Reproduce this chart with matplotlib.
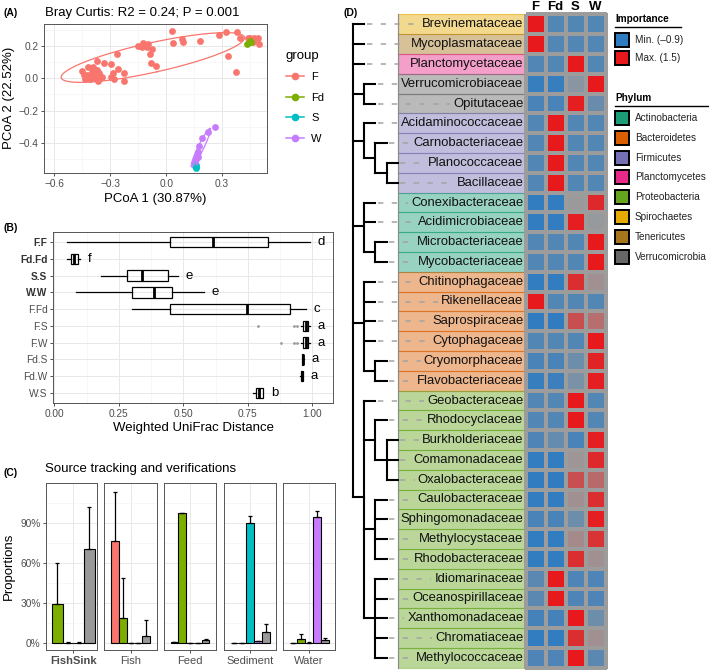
import numpy as np
import matplotlib
matplotlib.use('Agg')
import matplotlib.pyplot as plt
from matplotlib.patches import Rectangle
from matplotlib.lines import Line2D
from matplotlib.colors import LinearSegmentedColormap, Normalize

plt.rcParams['font.family'] = ['Liberation Sans', 'DejaVu Sans']

W, H = 709, 670

# ---------------- (A) PCoA data ----------------
pc1_F = [0.034, 0.038, 0.084, 0.088, 0.183, 0.285, 0.323, 0.377, 0.397, 0.330, 0.374,
         0.438, 0.453, 0.469, 0.483, 0.492, 0.496, 0.465, 0.447,
         -0.151, -0.124, -0.113, -0.128, -0.095, -0.077, -0.088, -0.083, -0.054, -0.101,
         -0.262, -0.295, -0.259, -0.287, -0.226, -0.293, -0.280, -0.223, -0.334, -0.372,
         -0.370, -0.361, -0.383, -0.406, -0.424, -0.451, -0.420, -0.397, -0.352, -0.433,
         -0.383, -0.410, -0.343, -0.366, -0.442, -0.392]
pc2_F = [0.295, 0.221, 0.241, 0.223, 0.229, 0.266, 0.285, 0.285, 0.252, 0.140, 0.039,
         0.247, 0.237, 0.247, 0.241, 0.247, 0.210, 0.227, 0.252,
         0.202, 0.221, 0.206, 0.196, 0.210, 0.179, 0.151, 0.097, 0.078, 0.196,
         0.148, 0.091, 0.060, 0.035, 0.035, 0.010, -0.004, -0.019, 0.097, 0.107,
         0.052, 0.035, 0.004, -0.006, 0.021, 0.047, 0.072, 0.041, 0.000, -0.006,
         0.035, 0.019, 0.010, -0.016, 0.021, 0.072]
pc1_Fd = [0.435, 0.450, 0.455]
pc2_Fd = [0.215, 0.232, 0.226]
pc1_S = [0.152, 0.158, 0.162, 0.160, 0.155]
pc2_S = [-0.525, -0.535, -0.548, -0.555, -0.540]
pc1_W = [0.259, 0.223, 0.192, 0.178, 0.170, 0.166, 0.160, 0.153, 0.170]
pc2_W = [-0.299, -0.330, -0.370, -0.420, -0.455, -0.475, -0.500, -0.520, -0.490]
group_names = ['F', 'Fd', 'S', 'W']
group_colors = ['#F8766D', '#7CAE00', '#00BFC4', '#C77CFF']

# ---------------- (B) distance boxplots ----------------
pair_labels = ['F.F', 'Fd.Fd', 'S.S', 'W.W', 'F.Fd', 'F.S', 'F.W', 'Fd.S', 'Fd.W', 'W.S']
box_lo = [0.05, 0.05, 0.18, 0.085, 0.30, 0.955, 0.955, 0.958, 0.953, 0.77]
box_q1 = [0.45, 0.065, 0.28, 0.30, 0.45, 0.965, 0.965, 0.960, 0.955, 0.78]
box_med = [0.615, 0.075, 0.34, 0.385, 0.745, 0.975, 0.975, 0.962, 0.958, 0.795]
box_q3 = [0.83, 0.09, 0.44, 0.455, 0.915, 0.985, 0.985, 0.965, 0.962, 0.81]
box_hi = [0.99, 0.10, 0.48, 0.58, 0.975, 0.99, 0.99, 0.966, 0.963, 0.81]
box_out = [[], [], [], [], [], [0.79, 0.93, 0.94], [0.88, 0.93, 0.94], [], [], []]
sig_letters = ['d', 'f', 'e', 'e', 'c', 'a', 'a', 'a', 'a', 'b']

# ---------------- (C) source tracking ----------------
sinks = ['FishSink', 'Fish', 'Feed', 'Sediment', 'Water']
sources = ['Fish', 'Feed', 'Sediment', 'Water', 'Unknown']
source_colors = ['#F8766D', '#7CAE00', '#00BFC4', '#C77CFF', '#999999']
prop_fish = [np.nan, 0.765, 0.006, 0.003, 0.003]
prop_feed = [0.295, 0.185, 0.970, 0.003, 0.028]
prop_sed = [0.004, 0.003, 0.002, 0.900, 0.004]
prop_water = [0.004, 0.003, 0.002, 0.012, 0.945]
prop_unknown = [0.705, 0.052, 0.020, 0.085, 0.025]
sd_fish = [np.nan, 0.365, 0.003, 0.001, 0.001]
sd_feed = [0.305, 0.305, 0.005, 0.001, 0.040]
sd_sed = [0.002, 0.001, 0.001, 0.050, 0.002]
sd_water = [0.002, 0.001, 0.001, 0.005, 0.040]
sd_unknown = [0.310, 0.120, 0.008, 0.057, 0.012]

# ---------------- (D) tree + importance heatmap ----------------
tree = ["Brevinemataceae", "Mycoplasmataceae", "Planctomycetaceae",
        ["Verrucomicrobiaceae", "Opitutaceae"],
        ["Acidaminococcaceae", ["Carnobacteriaceae", ["Planococcaceae", "Bacillaceae"]]],
        ["Conexibacteraceae", "Acidimicrobiaceae", ["Microbacteriaceae", "Mycobacteriaceae"]],
        ["Chitinophagaceae", "Rikenellaceae", "Saprospiraceae", "Cytophagaceae",
         ["Cryomorphaceae", "Flavobacteriaceae"]],
        ["Geobacteraceae",
         ["Rhodocyclaceae", ["Burkholderiaceae", "Comamonadaceae", "Oxalobacteraceae"]],
         ["Caulobacteraceae", "Sphingomonadaceae", "Methylocystaceae", "Rhodobacteraceae"],
         ["Idiomarinaceae", "Oceanospirillaceae", "Xanthomonadaceae", "Chromatiaceae",
          "Methylococcaceae"]]]
families = ["Brevinemataceae", "Mycoplasmataceae", "Planctomycetaceae", "Verrucomicrobiaceae",
            "Opitutaceae", "Acidaminococcaceae", "Carnobacteriaceae", "Planococcaceae",
            "Bacillaceae", "Conexibacteraceae", "Acidimicrobiaceae", "Microbacteriaceae",
            "Mycobacteriaceae", "Chitinophagaceae", "Rikenellaceae", "Saprospiraceae",
            "Cytophagaceae", "Cryomorphaceae", "Flavobacteriaceae", "Geobacteraceae",
            "Rhodocyclaceae", "Burkholderiaceae", "Comamonadaceae", "Oxalobacteraceae",
            "Caulobacteraceae", "Sphingomonadaceae", "Methylocystaceae", "Rhodobacteraceae",
            "Idiomarinaceae", "Oceanospirillaceae", "Xanthomonadaceae", "Chromatiaceae",
            "Methylococcaceae"]
family_phylum = (["Spirochaetes", "Tenericutes", "Planctomycetes"] + ["Verrucomicrobia"] * 2
                 + ["Firmicutes"] * 4 + ["Actinobacteria"] * 4 + ["Bacteroidetes"] * 6
                 + ["Proteobacteria"] * 14)
phyla = ['Actinobacteria', 'Bacteroidetes', 'Firmicutes', 'Planctomycetes',
         'Proteobacteria', 'Spirochaetes', 'Tenericutes', 'Verrucomicrobia']
phylum_colors = ['#1B9E77', '#D95F02', '#7570B3', '#E7298A',
                 '#66A61E', '#E6AB02', '#A6761D', '#666666']
heat_cols = ['F', 'Fd', 'S', 'W']
imp_F = [1.5, 1.5, -.5, -.8, -.6, -.5, -.5, -.5, -.5, -.85, -.85, -.5, -.5, -.85, 1.5, -.87, -.5,
         -.6, -.8, -.5, -.5, -.55, -.85, -.87, -.85, -.6, -.85, -.85, -.4, -.4, -.65, -.85, -.55]
imp_Fd = [-.5, -.5, -.5, -.8, -.6, 1.5, 1.5, 1.5, 1.5, -.85, -.85, -.5, -.5, -.85, -.5, -.87, -.5,
          -.6, -.75, -.5, -.5, -.3, -.85, -.87, -.85, -.6, -.85, -.85, 1.5, 1.5, -.65, -.85, -.55]
imp_S = [-.5, -.5, 1.5, .1, 1.45, -.5, -.5, -.5, -.5, .3, 1.45, -.5, -.5, 1.3, -.5, 1.0, -.5,
         -.2, -.05, 1.5, 1.5, -.6, .35, 1.0, .4, -.2, .45, 1.3, -.55, -.55, 1.5, 1.3, 1.5]
imp_W = [-.5, -.5, -.5, 1.5, -.25, -.5, -.5, -.5, -.5, 1.35, .25, 1.5, 1.5, .4, -.5, .72, 1.5,
         1.4, 1.45, -.5, -.5, 1.45, 1.35, .75, 1.3, 1.45, 1.25, .4, -.55, -.55, -.2, .4, -.4]

TICK = 7.3
TITLE = 9.5
TXT_GREY = '#4d4d4d'

fig = plt.figure(figsize=(W / 100, H / 100), dpi=100)


def px_axes(l, t, r, b):
    return fig.add_axes([l / W, 1 - b / H, (r - l) / W, (b - t) / H])


def ftext(x, y, s, **kw):
    return fig.text(x / W, 1 - y / H, s, **kw)


def bw_style(ax):
    for s in ax.spines.values():
        s.set_color('#555555')
        s.set_linewidth(0.7)
    ax.tick_params(which='major', length=2.5, width=0.6, color='#333333',
                   labelsize=TICK, labelcolor=TXT_GREY, pad=1.5)
    ax.tick_params(which='minor', length=0)
    ax.grid(True, which='major', color='#e8e8e8', lw=0.7)
    ax.grid(True, which='minor', color='#f2f2f2', lw=0.4)
    ax.set_axisbelow(True)


def ellipse_xy(x, y, level=0.68, n=150):
    x = np.asarray(x)
    y = np.asarray(y)
    vals, vecs = np.linalg.eigh(np.cov(x, y))
    r = np.sqrt(-2 * np.log(1 - level))
    t = np.linspace(0, 2 * np.pi, n)
    circ = np.vstack([np.cos(t), np.sin(t)])
    pts = vecs @ (np.sqrt(np.maximum(vals, 0))[:, None] * circ) * r
    return pts[0] + x.mean(), pts[1] + y.mean()


# ================= panel A =================
axA = px_axes(44, 24, 267, 173)
bw_style(axA)
groups = [(pc1_F, pc2_F), (pc1_Fd, pc2_Fd), (pc1_S, pc2_S), (pc1_W, pc2_W)]
handles = []
for name, col, (gx, gy) in zip(group_names, group_colors, groups):
    axA.scatter(gx, gy, s=24, color=col, lw=0, zorder=3)
    ex, ey = ellipse_xy(gx, gy)
    axA.plot(ex, ey, color=col, lw=0.9, zorder=4)
    handles.append(Line2D([], [], color=col, marker='o', markersize=4.5, lw=1.1))
axA.set_xlim(-0.654, 0.54)
axA.set_ylim(-0.586, 0.336)
axA.set_xticks([-0.6, -0.3, 0.0, 0.3], ['\u22120.6', '\u22120.3', '0.0', '0.3'])
axA.set_xticks([-0.45, -0.15, 0.15, 0.45], minor=True)
axA.set_yticks([-0.4, -0.2, 0.0, 0.2], ['\u22120.4', '\u22120.2', '0.0', '0.2'])
axA.set_yticks([-0.5, -0.3, -0.1, 0.1, 0.3], minor=True)
fig.legend(handles, group_names, title='group', loc='upper left',
           bbox_to_anchor=(280 / W, 1 - 44 / H), frameon=False, fontsize=8,
           title_fontsize=9.5, handlelength=1.7, labelspacing=0.95, borderpad=0,
           handletextpad=0.6, alignment='left')
ftext(45, 13, 'Bray Curtis: R2 = 0.24; P = 0.001', fontsize=TITLE, va='center')
ftext(4, 13, '(A)', fontsize=7.5, fontweight='bold', va='center')
ftext(155, 199, 'PCoA 1 (30.87%)', fontsize=TITLE, ha='center', va='center')
ftext(9, 98, 'PCoA 2 (22.52%)', fontsize=TITLE, ha='center', va='center', rotation=90)

# ================= panel B =================
axB = px_axes(53, 232, 333, 403)
bw_style(axB)
positions = np.arange(len(pair_labels), 0, -1)
stats = [dict(med=box_med[i], q1=box_q1[i], q3=box_q3[i], whislo=box_lo[i],
              whishi=box_hi[i], fliers=box_out[i]) for i in range(len(pair_labels))]
axB.bxp(stats, positions=positions, orientation='horizontal', widths=0.62,
        showcaps=False, patch_artist=True,
        boxprops=dict(facecolor='none', edgecolor='black', lw=0.9),
        medianprops=dict(color='black', lw=2.0),
        whiskerprops=dict(color='black', lw=0.9),
        flierprops=dict(marker='o', markersize=2, markerfacecolor='#9a9a9a',
                        markeredgecolor='none'))
for i, p in enumerate(positions):
    axB.text(box_hi[i] + 0.03, p, sig_letters[i], fontsize=9.5, ha='left', va='center')
axB.set_xlim(-0.005, 1.08)
axB.set_ylim(0.4, 10.6)
axB.set_xticks([0, 0.25, 0.5, 0.75, 1.0], ['0.00', '0.25', '0.50', '0.75', '1.00'])
axB.set_xticks([0.125, 0.375, 0.625, 0.875], minor=True)
axB.set_yticks(positions, pair_labels)
for i, tl in enumerate(axB.get_yticklabels()):
    if i < 4:
        tl.set_fontweight('bold')
        tl.set_color('#333333')
ftext(4, 228, '(B)', fontsize=7.5, fontweight='bold', va='center')
ftext(193, 428, 'Weighted UniFrac Distance', fontsize=TITLE, ha='center', va='center')

# ================= panel C =================
facet_px = [(46, 97), (104, 157), (164, 216), (224, 276), (283, 335)]
props = [prop_fish, prop_feed, prop_sed, prop_water, prop_unknown]
sds = [sd_fish, sd_feed, sd_sed, sd_water, sd_unknown]
for j, (l, r) in enumerate(facet_px):
    ax = px_axes(l, 483, r, 650)
    bw_style(ax)
    present = [k for k in range(len(sources)) if not np.isnan(props[k][j])]
    n = len(present)
    bw = 0.9 / n
    for m, k in enumerate(present):
        xp = 0.55 + bw * (m + 0.5)
        ax.bar(xp, props[k][j], width=bw, color=source_colors[k], edgecolor='black',
               lw=0.8, zorder=3)
        ax.errorbar(xp, props[k][j], yerr=[[0], [sds[k][j]]], fmt='none', ecolor='black',
                    elinewidth=0.9, capsize=1.2, capthick=0.9, zorder=4)
    ax.set_xlim((0.42, 1.5) if j == 0 else (0.4, 1.6))
    ax.set_ylim(-0.052, 1.197)
    ax.set_xticks([1], [sinks[j]])
    ax.set_yticks([0, 0.3, 0.6, 0.9], ['0%', '30%', '60%', '90%'])
    ax.set_yticks([0.15, 0.45, 0.75, 1.05], minor=True)
    ax.tick_params(axis='x', labelsize=8, pad=2)
    if j == 0:
        ax.get_xticklabels()[0].set_fontweight('bold')
    else:
        ax.tick_params(axis='y', left=False, labelleft=False)
ftext(45, 469, 'Source tracking and verifications', fontsize=TITLE, va='center')
ftext(4, 473, '(C)', fontsize=7.5, fontweight='bold', va='center')
ftext(9, 566, 'Proportions', fontsize=TITLE, ha='center', va='center', rotation=90)

# ================= panel D =================
axD = px_axes(340, 0, 709, 670)
axD.set_xlim(340, 709)
axD.set_ylim(670, 0)
axD.axis('off')
ftext(344, 13, '(D)', fontsize=7.5, fontweight='bold', va='center')

row_top, row_h = 14.4, 19.8
x_root, x_step = 353.0, 11.2
box_l, box_r = 398.0, 525.0
heat_l, cell_w = 525.5, 20.0
row_y = {f: row_top + row_h * (i + 0.5) for i, f in enumerate(families)}

leaf_tips = {}


def draw_tree(node, depth):
    x = x_root + x_step * depth
    if isinstance(node, str):
        leaf_tips[node] = x
        return x, row_y[node]
    kids = [draw_tree(c, depth + 1) for c in node]
    ys = [k[1] for k in kids]
    axD.plot([x, x], [min(ys), max(ys)], color='black', lw=1.5,
             solid_capstyle='projecting', zorder=3)
    for kx, ky in kids:
        axD.plot([x, kx], [ky, ky], color='black', lw=1.5,
                 solid_capstyle='projecting', zorder=3)
    return x, float(np.mean(ys))


draw_tree(tree, 0)

# label boxes
for f, ph in zip(families, family_phylum):
    col = phylum_colors[phyla.index(ph)]
    y0 = row_y[f] - row_h / 2
    axD.add_patch(Rectangle((box_l, y0), box_r - box_l, row_h, facecolor=col, alpha=0.45,
                            edgecolor='none', zorder=1))
    axD.add_patch(Rectangle((box_l, y0), box_r - box_l, row_h, facecolor='none',
                            edgecolor=col, alpha=0.5, lw=0.8, zorder=1.5))
axD.plot([box_l, box_l], [row_top, row_top + row_h * len(families)], color='#8a8a8a',
         lw=0.8, zorder=2)
labels = [axD.text(box_r - 1.5, row_y[f], f, fontsize=9.4, ha='right', va='center',
                   color='#111111', zorder=5) for f in families]

# heatmap
cmap = LinearSegmentedColormap.from_list('imp', [(0, '#2E7BC1'), (0.5, '#9B9B9B'),
                                                 (1, '#E8191C')])
norm = Normalize(-0.9, 1.5)
imp = np.column_stack([imp_F, imp_Fd, imp_S, imp_W])
xe = heat_l + cell_w * np.arange(len(heat_cols) + 1)
ye = row_top + row_h * np.arange(len(families) + 1)
axD.pcolormesh(xe, ye, imp, cmap=cmap, norm=norm, edgecolors='#9c9c9c', linewidth=1.6,
               zorder=2)
for c, name in enumerate(heat_cols):
    axD.text(heat_l + cell_w * (c + 0.5), 6.5, name, fontsize=9.5, fontweight='bold',
             ha='center', va='center')

# legends
lx = 615
axD.text(lx, 19, 'Importance', fontsize=7.2, fontweight='bold', va='center')
axD.plot([lx, 681], [27, 27], color='black', lw=1.0)
for yy, v, lab in [(40, -0.9, 'Min. (\u20130.9)'), (58, 1.5, 'Max. (1.5)')]:
    axD.add_patch(Rectangle((lx, yy - 7), 14, 14, facecolor=cmap(norm(v)),
                            edgecolor='black', lw=1.4))
    axD.text(lx + 20, yy, lab, fontsize=7.2, va='center', color='#222222')
axD.text(lx, 98, 'Phylum', fontsize=7.2, fontweight='bold', va='center')
axD.plot([lx, 708], [106, 106], color='black', lw=1.0)
for k, (ph, col) in enumerate(zip(phyla, phylum_colors)):
    yy = 118 + 19.8 * k
    axD.add_patch(Rectangle((lx, yy - 7), 14, 14, facecolor=col, edgecolor='black', lw=1.4))
    axD.text(lx + 20, yy, ph, fontsize=7.2, va='center', color='#222222')

# dashed leaders from tree tips to the label text
fig.canvas.draw()
renderer = fig.canvas.get_renderer()
inv = axD.transData.inverted()
for f, t in zip(families, labels):
    bb = t.get_window_extent(renderer)
    x_left = inv.transform((bb.x0, bb.y0))[0]
    x0 = leaf_tips[f] + 2.5
    if x_left - 3 > x0:
        axD.plot([x0, x_left - 3], [row_y[f], row_y[f]], color='#a3a3a3', lw=1.1,
                 linestyle=(0, (3.5, 5.5)), zorder=4)

fig.savefig('out.png', dpi=100)
